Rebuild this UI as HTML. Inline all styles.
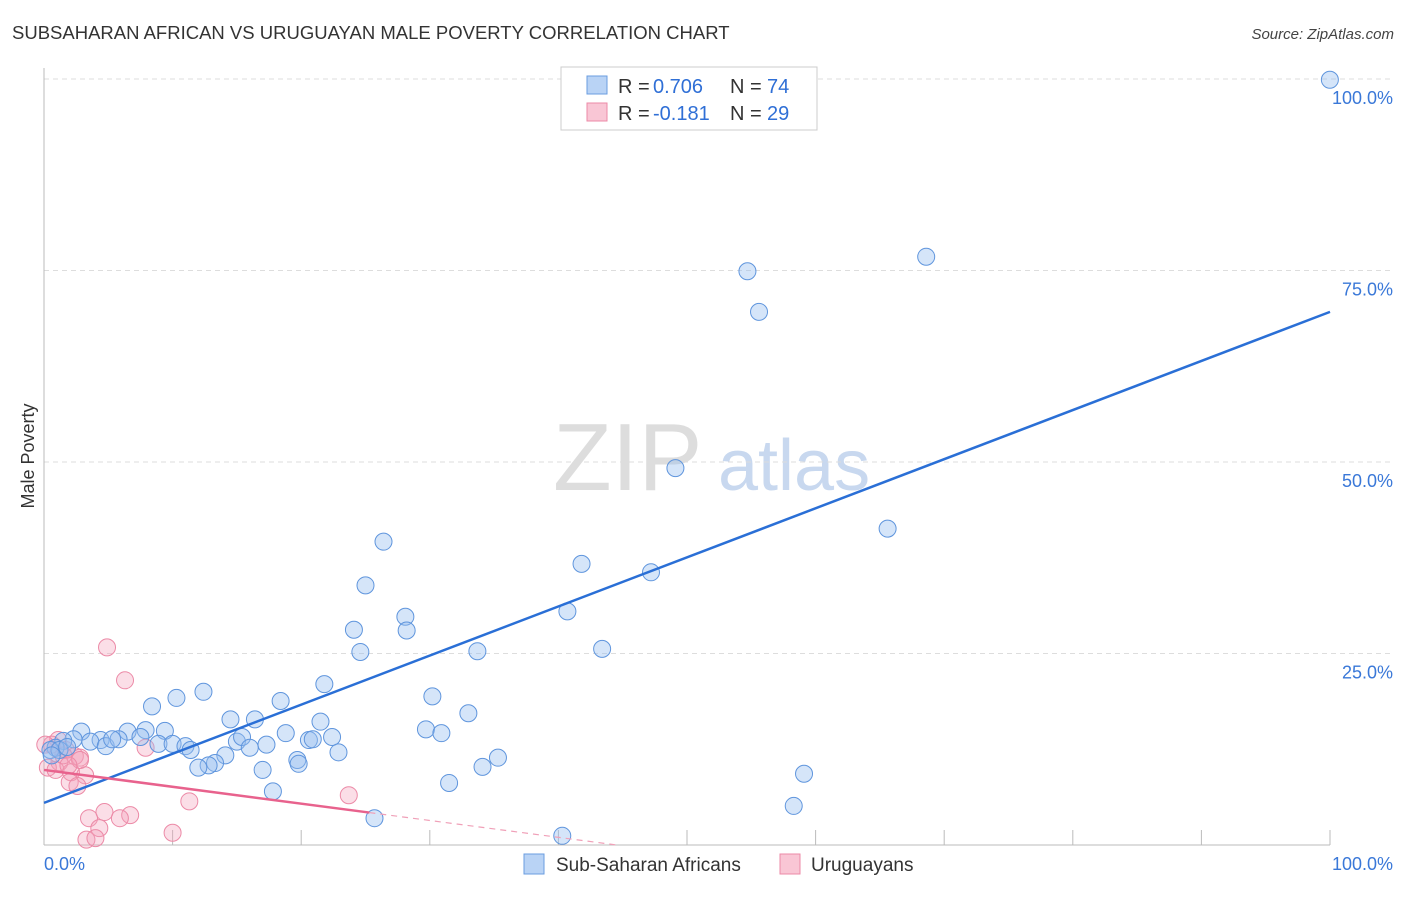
<!DOCTYPE html>
<html><head><meta charset="utf-8"><style>
body{margin:0;background:#fff;font-family:"Liberation Sans",sans-serif;}
svg text{font-family:"Liberation Sans",sans-serif;}
</style></head><body>
<svg id="chart" width="1406" height="892" xmlns="http://www.w3.org/2000/svg">
<text x="12" y="39" font-size="18.5" fill="#333">SUBSAHARAN AFRICAN VS URUGUAYAN MALE POVERTY CORRELATION CHART</text>
<text x="1394" y="39" font-size="15" fill="#444" font-style="italic" text-anchor="end">Source: ZipAtlas.com</text>
<text transform="translate(34,456) rotate(-90)" font-size="18" fill="#333" text-anchor="middle">Male Poverty</text>
<g><text x="553" y="490" font-size="96" fill="#ddd" font-family="Liberation Serif">ZIP</text><text x="718" y="490" font-size="72" fill="#c8d8ef">atlas</text></g>
<g id="grid"></g><g id="axes"></g><g id="points"></g><g id="trend"></g>
<g>
<rect x="561" y="67" width="256" height="63" fill="#fff" stroke="#ccc"/>
<rect x="587" y="76" width="20" height="18" fill="#b9d3f5" stroke="#6a9de0"/>
<rect x="587" y="103" width="20" height="18" fill="#f9c6d5" stroke="#ec8aa7"/>
<text x="618" y="93" font-size="20" fill="#333">R =</text><text x="653" y="93" font-size="20" fill="#2f6fd6">0.706</text>
<text x="730" y="93" font-size="20" fill="#333">N =</text><text x="767" y="93" font-size="20" fill="#2f6fd6">74</text>
<text x="618" y="120" font-size="20" fill="#333">R =</text><text x="653" y="120" font-size="20" fill="#2f6fd6">-0.181</text>
<text x="730" y="120" font-size="20" fill="#333">N =</text><text x="767" y="120" font-size="20" fill="#2f6fd6">29</text>
</g>
<g>
<rect x="524" y="854" width="20" height="20" fill="#b9d3f5" stroke="#6a9de0"/>
<text x="556" y="871" font-size="19" fill="#333">Sub-Saharan Africans</text>
<rect x="780" y="854" width="20" height="20" fill="#f9c6d5" stroke="#ec8aa7"/>
<text x="811" y="871" font-size="19" fill="#333">Uruguayans</text>
</g>
</svg>
<script>
const yTicks=[25,50,75,100];
const yTickLabels=["25.0%","50.0%","75.0%","100.0%"];
const blueX=[99.99,68.6,54.7,55.6,49.1,65.6,26.4,41.8,47.2,25.0,40.7,28.1,24.1,28.2,43.4,24.6,33.7,21.8,30.2,10.3,12.4,8.4,18.4,33.0,14.5,16.4,21.5,29.7,30.9,18.8,22.4,20.6,20.9,9.4,7.9,6.5,2.9,2.3,1.5,0.9,0.5,4.4,3.6,4.8,5.8,7.5,8.9,10.0,11.0,11.4,15.0,15.4,17.3,16.0,14.1,13.3,12.8,12.0,19.7,19.8,22.9,35.3,34.1,17.0,31.5,17.8,59.1,58.3,25.7,40.3,1.2,0.6,1.8,5.3];
const blueY=[99.9,76.8,74.9,69.6,49.2,41.3,39.6,36.7,35.6,33.9,30.5,29.8,28.1,28.0,25.6,25.2,25.3,21.0,19.4,19.2,20.0,18.1,18.8,17.2,16.4,16.4,16.1,15.1,14.6,14.6,14.1,13.7,13.8,14.9,15.0,14.8,14.8,13.8,13.6,12.7,12.4,13.7,13.5,12.9,13.8,14.1,13.2,13.2,12.9,12.4,13.5,14.1,13.1,12.7,11.7,10.7,10.4,10.1,11.1,10.6,12.1,11.4,10.2,9.8,8.1,7.0,9.3,5.1,3.5,1.2,12.4,11.7,12.8,13.8];
const pinkX=[4.9,6.3,1.1,0.6,1.7,2.4,2.8,1.2,0.3,0.9,2.1,3.2,2.0,2.6,7.9,2.8,1.5,11.3,23.7,4.7,6.7,3.5,4.3,5.9,3.3,4.0,10.0,0.1,1.9];
const pinkY=[25.8,21.5,13.7,13.1,12.4,11.6,11.4,10.8,10.1,9.8,9.5,9.1,8.2,7.7,12.7,11.1,11.7,5.7,6.5,4.3,3.9,3.5,2.2,3.5,0.7,0.9,1.6,13.1,10.4];
const blueTrend=[5.5,69.6];
const pinkTrend=[9.8,-0.22];
const X0=44,X1=1330,Y0=845,Y100=79;
const sx=v=>X0+(X1-X0)*v/100, sy=v=>Y0-(Y0-Y100)*v/100;
const NS="http://www.w3.org/2000/svg";
function mk(tag,attrs,parent){const e=document.createElementNS(NS,tag);for(const k in attrs)e.setAttribute(k,attrs[k]);document.getElementById(parent).appendChild(e);return e;}
yTicks.forEach((t,i)=>{
 const g=mk('line',{x1:X0,x2:1392,y1:sy(t),y2:sy(t),stroke:'#ddd','stroke-dasharray':'5,4'},'grid');
 
 
 const l=mk('text',{x:1393,y:sy(t)+25,'font-size':18,fill:'#3a78d8','text-anchor':'end'},'axes');
 l.textContent=yTickLabels[i];
 
 
});
const ax=mk('line',{x1:X0,x2:X0,y1:68,y2:Y0,stroke:'#bbb'},'axes');


const bx=mk('line',{x1:X0,x2:X1,y1:Y0,y2:Y0,stroke:'#bbb'},'axes');


for(let i=1;i<=10;i++){const t=mk('line',{x1:sx(i*10),x2:sx(i*10),y1:830,y2:Y0,stroke:'#bbb'},'axes');
 
 }
const xl0=mk('text',{x:44,y:870,'font-size':18,fill:'#3a78d8'},'axes');xl0.textContent='0.0%';


const xl1=mk('text',{x:1393,y:870,'font-size':18,fill:'#3a78d8','text-anchor':'end'},'axes');xl1.textContent='100.0%';


pinkX.forEach((v,i)=>{const c=mk('circle',{cx:sx(v),cy:sy(pinkY[i]),r:8.5,fill:'rgba(244,160,185,0.35)',stroke:'#ec8aa7','stroke-width':1},'points');
 
 });
blueX.forEach((v,i)=>{const c=mk('circle',{cx:sx(v),cy:sy(blueY[i]),r:8.5,fill:'rgba(150,190,240,0.4)',stroke:'#5f95dd','stroke-width':1},'points');
 
 });
const bl=mk('line',{x1:sx(0),y1:sy(blueTrend[0]),x2:sx(100),y2:sy(blueTrend[1]),stroke:'#2a6fd6','stroke-width':2.5},'trend');


const pe=25.3, pz=-pinkTrend[0]/pinkTrend[1];
const pl=mk('line',{x1:sx(0),y1:sy(pinkTrend[0]),x2:sx(pe),y2:sy(pinkTrend[0]+pinkTrend[1]*pe),stroke:'#e8628d','stroke-width':2.5},'trend');


const pd=mk('line',{x1:sx(pe),y1:sy(pinkTrend[0]+pinkTrend[1]*pe),x2:sx(pz),y2:sy(0),stroke:'#f0a0b8','stroke-width':1.2,'stroke-dasharray':'6,5'},'trend');


</script>
</body></html>
